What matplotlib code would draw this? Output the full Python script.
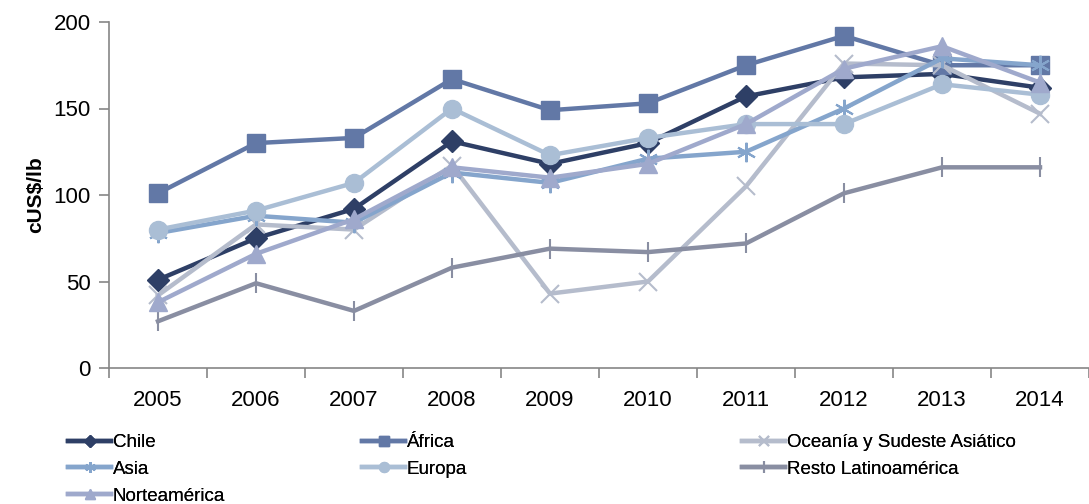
import matplotlib
matplotlib.use("Agg")
import matplotlib.pyplot as plt

# data (cUS$/lb)
years = ["2005", "2006", "2007", "2008", "2009", "2010", "2011", "2012", "2013", "2014"]
chile = [51, 75, 92, 131, 118, 130, 157, 168, 170, 162]
africa = [101, 130, 133, 167, 149, 153, 175, 192, 175, 175]
oceania = [42, 83, 80, 117, 43, 50, 105, 176, 175, 147]
asia = [78, 88, 84, 113, 107, 121, 125, 150, 179, 175]
europa = [80, 91, 107, 150, 123, 133, 141, 141, 164, 158]
resto = [27, 49, 33, 58, 69, 67, 72, 101, 116, 116]
norte = [38, 66, 86, 116, 110, 118, 141, 173, 186, 165]

plt.rcParams["font.family"] = ["Liberation Sans", "DejaVu Sans"]

fig = plt.figure(figsize=(10.89, 5.04), dpi=100)
ax = fig.add_axes([109 / 1089, 1 - 368 / 504, 980 / 1089, 346 / 504])

x = list(range(len(years)))
series = [
    ("Chile", chile, "#2E3F66", "D", 11, dict()),
    ("África", africa, "#6278A6", "s", 13, dict()),
    ("Oceanía y Sudeste Asiático", oceania, "#B5BCCC", "x", 13, dict(markeredgewidth=1.5)),
    ("Asia", asia, "#85A5CC", (6, 2, 0), 14, dict(markeredgewidth=1.5)),
    ("Europa", europa, "#AABED5", "o", 13, dict()),
    ("Resto Latinoamérica", resto, "#898EA2", "|", 15, dict(markeredgewidth=1.5)),
    ("Norteamérica", norte, "#9FA9CC", "^", 13, dict()),
]

handles = {}
for name, vals, color, mk, ms, extra in series:
    (ln,) = ax.plot(x, vals, color=color, lw=3.2, marker=mk, markersize=ms,
                    markerfacecolor=color, markeredgecolor=color, label=name,
                    solid_joinstyle="round", **extra)
    handles[name] = ln

ax.set_xlim(-0.5, 9.5)
ax.set_ylim(0, 200)
ax.set_yticks([0, 50, 100, 150, 200])
ax.set_xticks(x)
ax.set_xticklabels(years)
ax.set_xticks([i - 0.5 for i in range(11)], minor=True)
ax.tick_params(axis="x", which="major", length=0, pad=16, labelsize=16)
ax.tick_params(axis="x", which="minor", length=7, width=1.2, color="#868686")
ax.tick_params(axis="y", length=7, width=1.2, color="#868686", labelsize=16, pad=6)
for s in ["top", "right"]:
    ax.spines[s].set_visible(False)
for s in ["left", "bottom"]:
    ax.spines[s].set_color("#868686")
    ax.spines[s].set_linewidth(1.2)

ax.set_ylabel("cUS$/lb", fontsize=15, fontweight="bold", labelpad=6)

# legend: three columns placed like the original
cols = [
    (["Chile", "Asia", "Norteamérica"], 68),
    (["África", "Europa"], 362),
    (["Oceanía y Sudeste Asiático", "Resto Latinoamérica"], 742),
]
for names, px in cols:
    leg = fig.legend([handles[n] for n in names], names, loc="upper left",
                     bbox_to_anchor=(px / 1089, 1 - 434 / 504), frameon=False,
                     fontsize=13.5, handlelength=2.3, handletextpad=0.1,
                     labelspacing=0.52, borderpad=0, borderaxespad=0,
                     markerscale=0.55)
    fig.add_artist(leg)

fig.savefig("out.png", dpi=100)
